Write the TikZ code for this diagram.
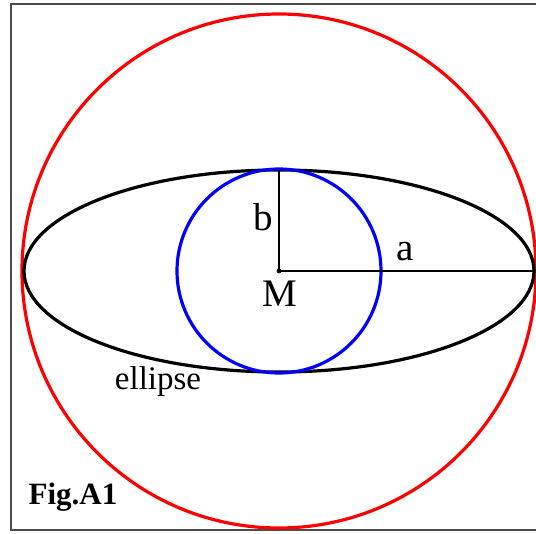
\documentclass[tikz,border=0pt]{standalone}
\usepackage{fontspec}
\setmainfont{Liberation Serif}
\usetikzlibrary{positioning}

\tikzset{
  frameline/.style={draw=black!70,line width=2.6pt},
  curve/.style={line width=3.2pt},
  radius line/.style={draw=black,line width=1.1pt},
  biglabel/.style={inner sep=0pt,font=\fontsize{39}{39}\selectfont},
  smalllabel/.style={inner sep=0pt,font=\fontsize{33}{33}\selectfont}
}

\begin{document}
\begin{tikzpicture}[x=1pt,y=-1pt]
\useasboundingbox (0,0) rectangle (536,534);
% frame, cut at the right by the page
\draw[frameline] (540,4) -- (11,4) -- (11,530) -- (540,530);
% centre and the ends of the half axes
\coordinate (M) at (279,271);
\coordinate (top) at (279,170);
\coordinate (right) at (533,271);
% curves
\draw[curve,red] (M) circle (257);
\draw[curve,black] (M) ellipse (255 and 101);
\draw[curve,blue] (M) circle (102);
% half axes
\draw[radius line] (M) -- (top);
\draw[radius line] (M) -- (right);
\fill (M) circle (2.4pt);
% labels
\node[biglabel] (lb) at (263,217) {b};
\node[biglabel] (la) at (405,252) {a};
\node[biglabel] (lM) at (280,294) {M};
\node[smalllabel] (lell) at (158,382) {ellipse};
\node[smalllabel,font=\fontsize{31}{31}\selectfont\bfseries] (lfig) at (73,497) {Fig.A1};
\end{tikzpicture}
\end{document}
